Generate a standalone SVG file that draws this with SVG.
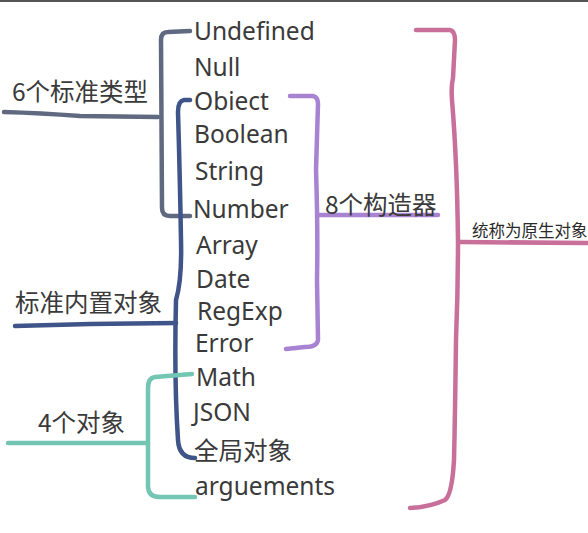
<svg xmlns="http://www.w3.org/2000/svg" width="588" height="533" viewBox="0 0 588 533">
<style>
.t{font-family:"Noto Sans","Noto Sans CJK SC",sans-serif;fill:#3a3a3a;font-size:24.5px}
.c{font-family:"Noto Sans CJK SC","Noto Sans",sans-serif;fill:#3a3a3a;font-size:24.5px}
.s{font-family:"Noto Sans CJK SC","Noto Sans",sans-serif;fill:#2a2a2a;font-size:16.5px}
.ln{fill:none;stroke-width:4.5;stroke-linecap:round;stroke-linejoin:round}
.gray{stroke:#5f6a80}
.blue{stroke:#3f5488}
.teal{stroke:#72c6b3}
.purple{stroke:#a883d2}
.pink{stroke:#c8709a}
</style>
<rect width="588" height="533" fill="#ffffff"/>
<rect width="588" height="2" fill="#555555"/>
<g id="connectors">
<path class="ln gray" d="M4,112 Q40,113 80,116 L158,117"/>
<path class="ln gray" d="M190,31 L168,32 Q161,32 161,40 L162,208 Q162,216 170,216 L190,216"/>
<path class="ln blue" d="M190,100 L184,100 Q178,101 178,112 Q180,180 181,240 Q182,280 176,300 Q174,380 178,440 Q179,458 195,458"/>
<path class="ln blue" d="M15,326 L90,324 L176,323"/>
<path class="ln teal" d="M192,374 L155,377 Q148,378 148,388 L148,486 Q148,497 160,497 L195,497"/>
<path class="ln teal" d="M8,443 L148,443"/>
<path class="ln purple" d="M290,96 L313,96 Q318,97 318,104 L316,170 Q318,230 317,280 L318,340 Q317,347 305,347 L286,349"/>
<path class="ln purple" d="M318,215 L438,215"/>
<path class="ln pink" d="M416,30 L450,30 Q455,31 455,40 L453,78 Q451,86 452,100 Q457,160 458,240 Q458,290 456,340 Q455,420 454,460 Q452,495 445,500 Q430,507 410,508"/>
<path class="ln pink" d="M460,242 L588,243"/>
</g>
<g id="n-undefined"><text class="t" x="194" y="40">Undefined</text></g>
<g id="n-null"><text class="t" x="194" y="76">Null</text></g>
<g id="n-object"><text class="t" x="194" y="110">Obiect</text></g>
<g id="n-boolean"><text class="t" x="194" y="143">Boolean</text></g>
<g id="n-string"><text class="t" x="195" y="180">String</text></g>
<g id="n-number"><text class="t" x="193" y="218">Number</text></g>
<g id="n-array"><text class="t" x="196" y="254">Array</text></g>
<g id="n-date"><text class="t" x="196" y="288">Date</text></g>
<g id="n-regexp"><text class="t" x="197" y="320">RegExp</text></g>
<g id="n-error"><text class="t" x="195" y="352">Error</text></g>
<g id="n-math"><text class="t" x="196" y="386">Math</text></g>
<g id="n-json"><text class="t" x="193" y="421">JSON</text></g>
<g id="n-global"><text class="c" x="194" y="460">全局对象</text></g>
<g id="n-arguements"><text class="t" x="195" y="495">arguements</text></g>
<g id="n-six"><text class="c" x="12" y="101">6个标准类型</text></g>
<g id="n-builtin"><text class="c" x="15" y="312">标准内置对象</text></g>
<g id="n-four"><text class="c" x="38" y="432">4个对象</text></g>
<g id="n-eight"><text class="c" x="325" y="214">8个构造器</text></g>
<g id="n-native"><text class="s" x="472" y="237">统称为原生对象</text></g>
</svg>
